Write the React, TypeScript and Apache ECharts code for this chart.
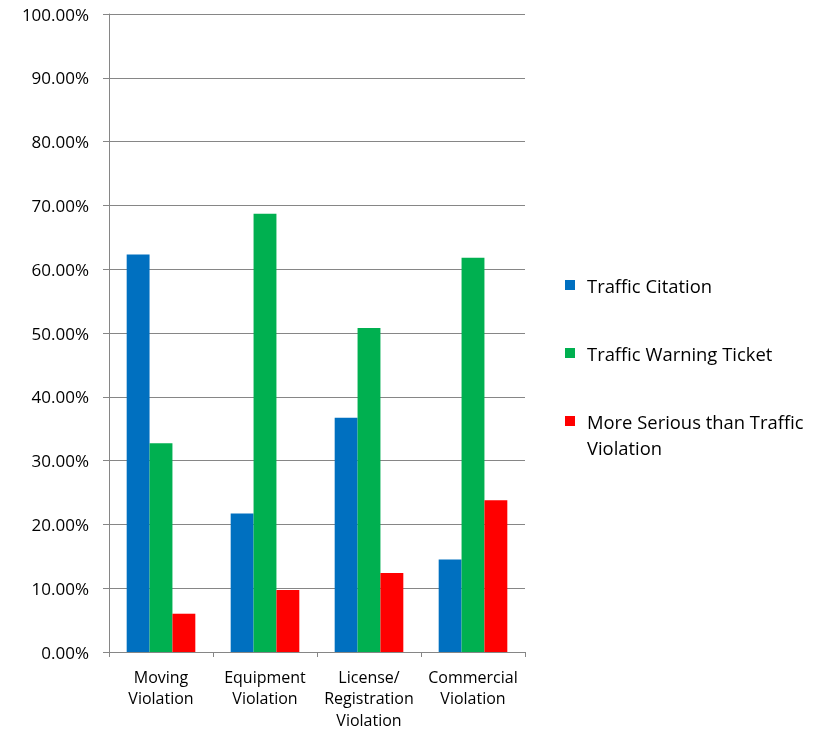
import React, { useEffect, useRef } from "react";
import * as echarts from "echarts";

const categories = ["Moving\nViolation", "Equipment\nViolation", "License/\nRegistration\nViolation", "Commercial\nViolation"];
const seriesNames = ["Traffic Citation", "Traffic Warning Ticket", "More Serious than Traffic Violation"];
const trafficCitation = [62.3, 21.7, 36.7, 14.5];
const trafficWarning = [32.7, 68.7, 50.8, 61.8];
const moreSerious = [6.0, 9.7, 12.4, 23.8];
const colors = ["#0070C0", "#00B050", "#FF0000"];

const FONT = "Open Sans";

export default function App() {
  const ref = useRef<HTMLDivElement>(null);
  useEffect(() => {
    const chart = echarts.init(ref.current!, null, { renderer: "svg" });
    const values = [trafficCitation, trafficWarning, moreSerious];
    const legendTops = [272, 340, 382];
    chart.setOption({
      animation: false,
      textStyle: { fontFamily: FONT },
      grid: { left: 109, right: 290, top: 14, bottom: 79, containLabel: false },
      legend: seriesNames.map((n, i) => ({
        data: [n],
        orient: "vertical",
        left: 565,
        top: legendTops[i],
        padding: 0,
        itemWidth: 10,
        itemHeight: 10,
        itemGap: 10,
        icon: "rect",
        formatter: (name: string) =>
          name === seriesNames[2] ? "\nMore Serious than Traffic\nViolation" : name,
        textStyle: {
          fontFamily: FONT,
          fontSize: 18.4,
          color: "#000",
          lineHeight: 26,
          padding: [0, 0, 0, 7],
        },
      })),
      xAxis: {
        type: "category",
        data: categories,
        axisLine: { lineStyle: { color: "#868686", width: 1 } },
        axisTick: { show: true, length: 5, lineStyle: { color: "#868686" } },
        axisLabel: { color: "#000", fontFamily: FONT, fontSize: 16, lineHeight: 21.5, margin: 14, interval: 0 },
      },
      yAxis: {
        type: "value",
        min: 0,
        max: 100,
        interval: 10,
        axisLine: { show: true, lineStyle: { color: "#868686", width: 1 } },
        axisTick: { show: true, length: 6, inside: false, lineStyle: { color: "#868686" } },
        splitLine: { lineStyle: { color: "#868686", width: 1 } },
        axisLabel: {
          color: "#000",
          fontFamily: FONT,
          fontSize: 17,
          margin: 20,
          formatter: (v: number) => v.toFixed(2) + "%",
        },
      },
      series: values.map((d, i) => ({
        name: seriesNames[i],
        type: "bar",
        data: d,
        barGap: "0%",
        barCategoryGap: "34%",
        itemStyle: { color: colors[i] },
      })),
    });
    return () => chart.dispose();
  }, []);
  return (
    <div
      ref={ref}
      style={{ position: "fixed", left: 0, top: 0, width: 815, height: 731 }}
    />
  );
}
